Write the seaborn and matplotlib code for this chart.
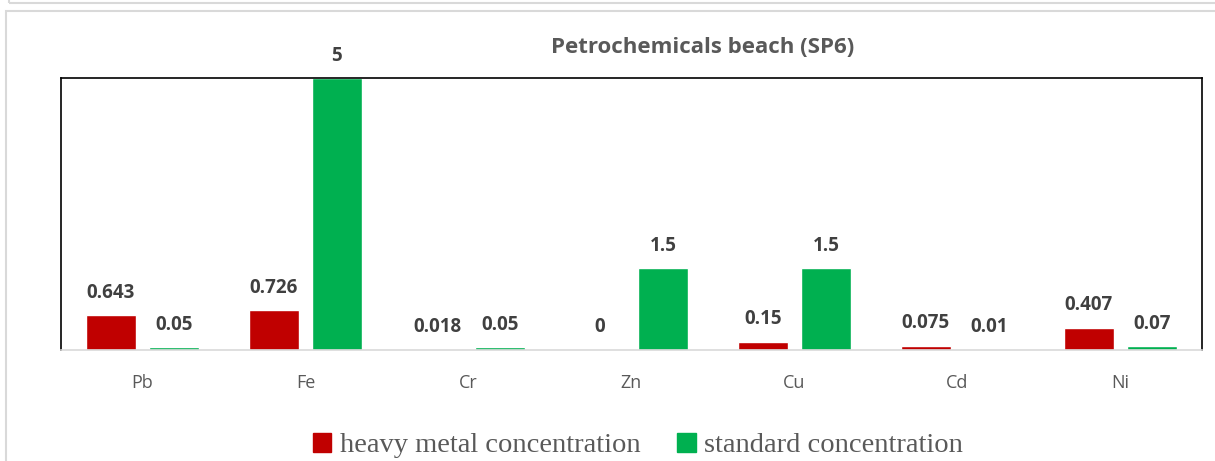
import pandas as pd
import matplotlib.pyplot as plt
import seaborn as sns
from matplotlib.patches import Rectangle

metals = ['Pb', 'Fe', 'Cr', 'Zn', 'Cu', 'Cd', 'Ni']
heavy = [0.643, 0.726, 0.018, 0, 0.15, 0.075, 0.407]
standard = [0.05, 5, 0.05, 1.5, 1.5, 0.01, 0.07]
series = ['heavy metal concentration', 'standard concentration']

df = pd.DataFrame({
    'metal': metals * 2,
    'value': heavy + standard,
    'series': [series[0]] * len(metals) + [series[1]] * len(metals),
})

sns.set_style('white')
fig = plt.figure(figsize=(12.15, 4.61), dpi=100)
ax = fig.add_axes([0.0502, 0.2408, 0.9391, 0.59])

sns.barplot(data=df, x='metal', y='value', hue='series', hue_order=series,
            palette=['#C00000', '#00B050'], width=0.773, gap=0.205,
            saturation=1, ax=ax, legend=False)

for cont, vals in zip(ax.containers, [heavy, standard]):
    ax.bar_label(cont, labels=[f'{v:g}' for v in vals], padding=9,
                 fontsize=13.5, fontweight='bold', color='#404040',
                 family='Open Sans', clip_on=False)

ax.set_ylim(0, 5)
ax.set_xlim(-0.5, 6.5)
ax.set_yticks([])
ax.set_xlabel('')
ax.set_ylabel('')
ax.tick_params(axis='x', length=0, pad=17, labelsize=13, labelcolor='#595959')
for lab in ax.get_xticklabels():
    lab.set_family('Open Sans')
for s in ['left', 'top', 'right']:
    ax.spines[s].set_color('black')
    ax.spines[s].set_linewidth(1.2)
ax.spines['bottom'].set_color('#D9D9D9')
ax.spines['bottom'].set_linewidth(1.2)

fig.text(0.578, 0.896, 'Petrochemicals beach (SP6)', ha='center', va='center',
         fontsize=16, fontweight='bold', color='#595959', family='Open Sans')

handles = [Rectangle((0, 0), 1, 1, color=c) for c in ['#C00000', '#00B050']]
leg = fig.legend(handles, series, loc='center', bbox_to_anchor=(0.525, 0.034),
                 ncol=2, frameon=False, handlelength=0.65, handleheight=0.65,
                 handletextpad=0.3, columnspacing=1.3,
                 prop={'family': 'Liberation Serif', 'size': 20.5})
for t in leg.get_texts():
    t.set_color('#595959')

# outer chart frames
fig.patches.append(Rectangle((6 / 1215, -0.05), 1.2, 1 - 11 / 461 + 0.05,
                             transform=fig.transFigure, fill=False,
                             edgecolor='#D9D9D9', linewidth=1.5))
fig.patches.append(Rectangle((9 / 1215, 1 - 3 / 461), 1.2, 0.2,
                             transform=fig.transFigure, fill=False,
                             edgecolor='#D9D9D9', linewidth=1.5))

fig.savefig('out.png', dpi=100)
